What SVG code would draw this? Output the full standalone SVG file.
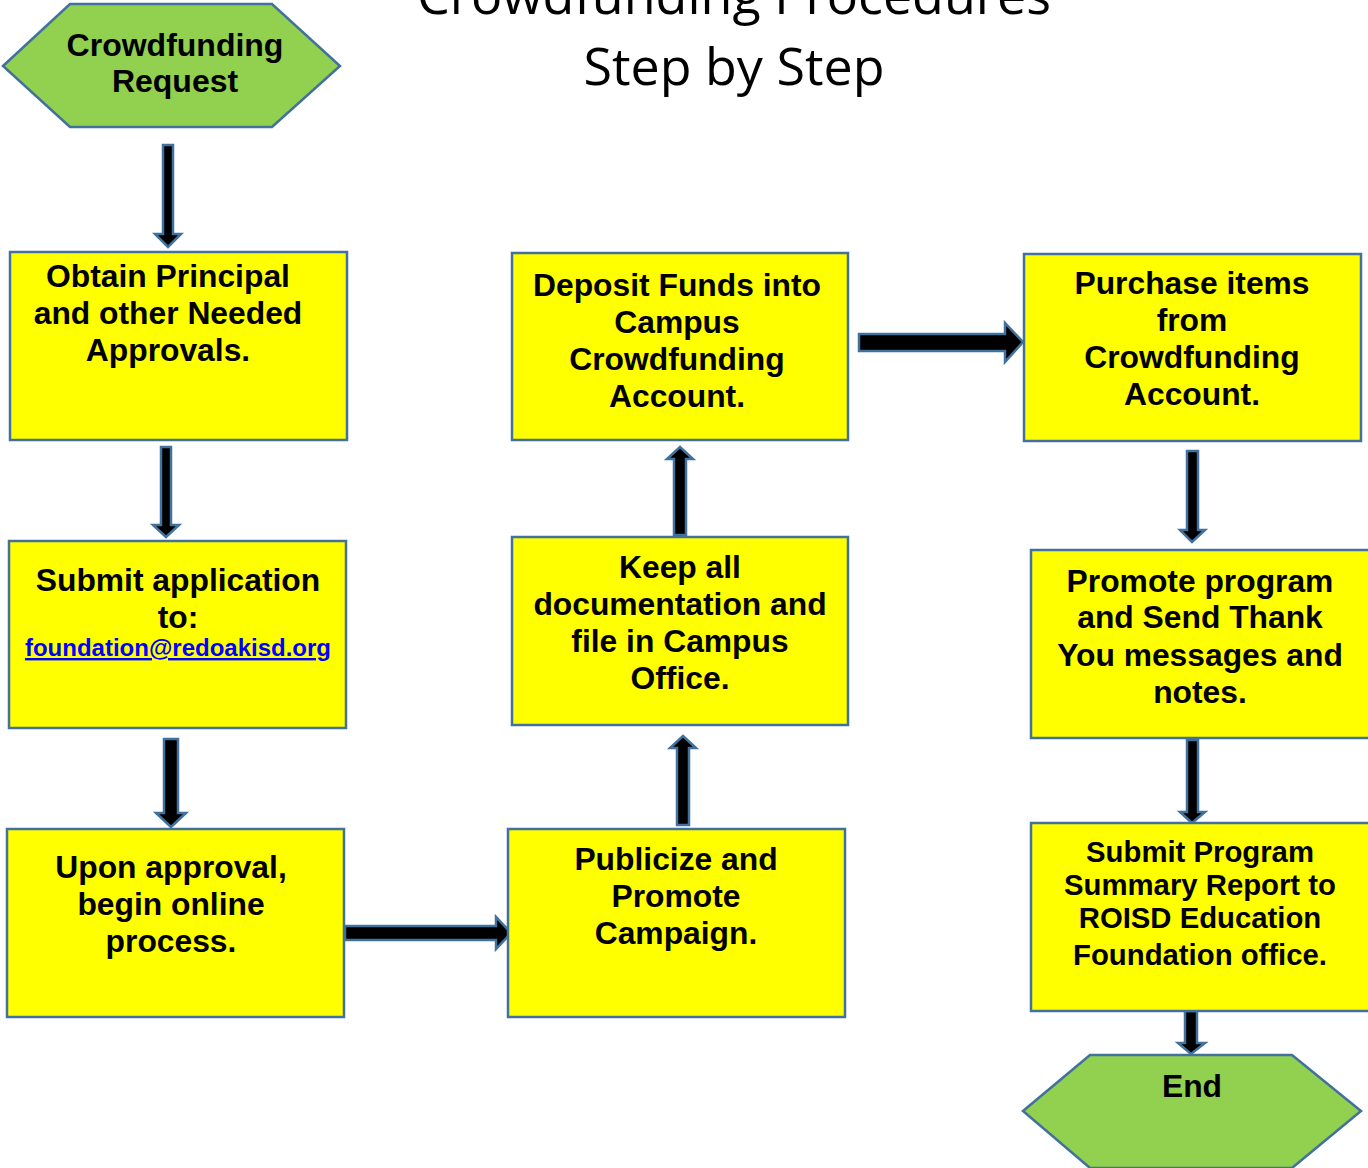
<svg xmlns="http://www.w3.org/2000/svg" width="1368" height="1168" viewBox="0 0 1368 1168">
<style>
.box{fill:#FFFF00;stroke:#41719C;stroke-width:2.5}
.hex{fill:#92D050;stroke:#41719C;stroke-width:2.5}
.arr{fill:#000;stroke:#41719C;stroke-width:2.5;stroke-linejoin:miter}
.t{font-family:"Liberation Sans",Arial,sans-serif;font-weight:bold;font-size:31.8px;text-anchor:middle;fill:#000}
.s{font-size:29.3px}
.h{font-size:32px}
.link{font-family:"Liberation Sans",Arial,sans-serif;font-weight:bold;font-size:24px;text-anchor:middle;fill:#0000FF;text-decoration:underline}
.title{font-family:"Open Sans","Noto Sans",sans-serif;font-size:52px;text-anchor:middle;fill:#000}
</style>
<rect width="1368" height="1168" fill="#fff"/>
<g id="title">
<text class="title" x="734" y="14">Crowdfunding Procedures</text>
<text class="title" x="734" y="85">Step by Step</text>
</g>
<g id="connectors">
<polygon class="arr" points="163,145 173,145 173,234 181,234 168,247 155,234 163,234"/>
<polygon class="arr" points="161,447 171,447 171,525 179,525 166,537 153,525 161,525"/>
<polygon class="arr" points="164,739 178,739 178,813 186,813 171,827 156,813 164,813"/>
<polygon class="arr" points="345,926 496,926 496,917 511,933 496,949 496,940 345,940"/>
<polygon class="arr" points="677,825 689,825 689,748 696,748 683,736 670,748 677,748"/>
<polygon class="arr" points="674,535 686,535 686,459 693,459 680,447 667,459 674,459"/>
<polygon class="arr" points="859,334 1005,334 1005,323 1023,342 1005,362 1005,351 859,351"/>
<polygon class="arr" points="1187,451 1198,451 1198,530 1205,530 1192,542 1180,530 1187,530"/>
<polygon class="arr" points="1187,740 1198,740 1198,812 1205,812 1192,823 1180,812 1187,812"/>
<polygon class="arr" points="1185,1011 1197,1011 1197,1043 1205,1043 1191,1054 1178,1043 1185,1043"/>
</g>
<g id="start">
<polygon class="hex" points="3,66 70,4 272,4 340,66 272,127 70,127"/>
<text class="t h" x="175" y="56">Crowdfunding</text>
<text class="t h" x="175" y="92">Request</text>
</g>
<g id="obtain">
<rect class="box" x="10" y="252" width="337" height="188"/>
<text class="t" x="168" y="287">Obtain Principal</text>
<text class="t" x="168" y="324">and other Needed</text>
<text class="t" x="168" y="361">Approvals.</text>
</g>
<g id="submit">
<rect class="box" x="9" y="541" width="337" height="187"/>
<text class="t" x="178" y="591">Submit application</text>
<text class="t" x="178" y="628">to:</text>
<text class="link" x="178" y="656">foundation@redoakisd.org</text>
</g>
<g id="upon">
<rect class="box" x="7" y="829" width="337" height="188"/>
<text class="t" x="171" y="878">Upon approval,</text>
<text class="t" x="171" y="915">begin online</text>
<text class="t" x="171" y="952">process.</text>
</g>
<g id="publicize">
<rect class="box" x="508" y="829" width="337" height="188"/>
<text class="t" x="676" y="870">Publicize and</text>
<text class="t" x="676" y="907">Promote</text>
<text class="t" x="676" y="944">Campaign.</text>
</g>
<g id="keep">
<rect class="box" x="512" y="537" width="336" height="188"/>
<text class="t" x="680" y="578">Keep all</text>
<text class="t" x="680" y="615">documentation and</text>
<text class="t" x="680" y="652">file in Campus</text>
<text class="t" x="680" y="689">Office.</text>
</g>
<g id="deposit">
<rect class="box" x="512" y="253" width="336" height="187"/>
<text class="t" x="677" y="296">Deposit Funds into</text>
<text class="t" x="677" y="333">Campus</text>
<text class="t" x="677" y="370">Crowdfunding</text>
<text class="t" x="677" y="407">Account.</text>
</g>
<g id="purchase">
<rect class="box" x="1024" y="254" width="337" height="187"/>
<text class="t" x="1192" y="294">Purchase items</text>
<text class="t" x="1192" y="331">from</text>
<text class="t" x="1192" y="368">Crowdfunding</text>
<text class="t" x="1192" y="405">Account.</text>
</g>
<g id="promote">
<rect class="box" x="1031" y="550" width="340" height="188"/>
<text class="t" x="1200" y="592">Promote program</text>
<text class="t" x="1200" y="628">and Send Thank</text>
<text class="t" x="1200" y="666">You messages and</text>
<text class="t" x="1200" y="703">notes.</text>
</g>
<g id="report">
<rect class="box" x="1031" y="823" width="340" height="188"/>
<text class="t s" x="1200" y="862">Submit Program</text>
<text class="t s" x="1200" y="895">Summary Report to</text>
<text class="t s" x="1200" y="928">ROISD Education</text>
<text class="t s" x="1200" y="965">Foundation office.</text>
</g>
<g id="end">
<polygon class="hex" points="1023,1111 1090,1055 1292,1055 1361,1111 1292,1168 1090,1168"/>
<text class="t" x="1192" y="1097">End</text>
</g>
</svg>
